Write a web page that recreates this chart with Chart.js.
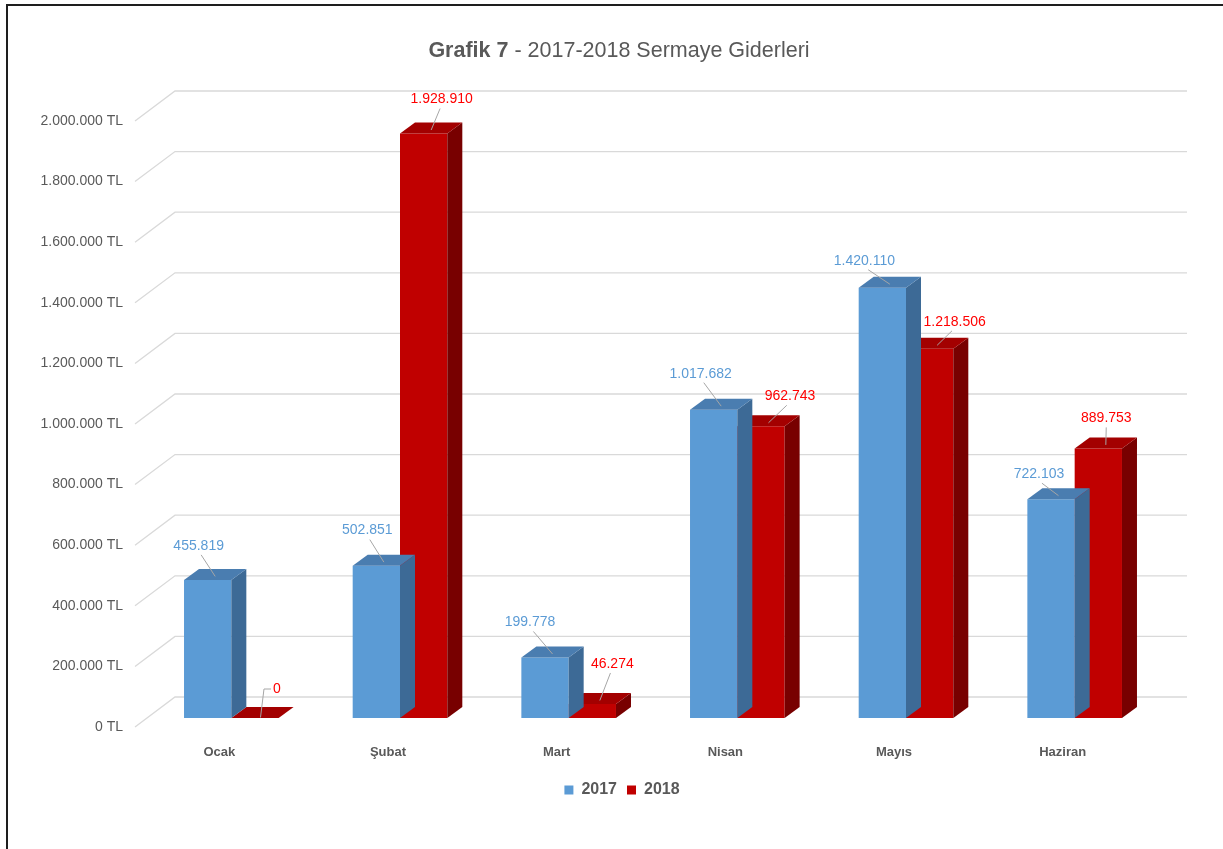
<!DOCTYPE html>
<html>
<head>
<meta charset="utf-8">
<script src="https://cdn.jsdelivr.net/npm/chart.js@4.4.1/dist/chart.umd.min.js"></script>
<style>
html,body{margin:0;padding:0;background:#fff;overflow:hidden;width:1223px;height:849px;}
#wrap{position:relative;width:1223px;height:849px;overflow:hidden;}
#frame{position:absolute;left:6px;top:4px;width:1400px;height:1000px;border-top:2px solid #1e1e1e;border-left:2px solid #1e1e1e;}
#title{position:absolute;top:37px;left:0;width:1238px;text-align:center;font-family:"Liberation Sans",Arial,sans-serif;font-size:21.5px;color:#595959;line-height:26px;}
#title b{font-weight:bold;}
canvas{position:absolute;left:0;top:0;}
</style>
</head>
<body>
<div id="wrap">
  <div id="frame"></div>
  <canvas id="c" width="1223" height="849"></canvas>
  <div id="title"><b>Grafik 7</b> - 2017-2018 Sermaye Giderleri</div>
</div>
<script>
// ---- data ----
const categories = ['Ocak', 'Şubat', 'Mart', 'Nisan', 'Mayıs', 'Haziran'];
const seriesNames = ['2017', '2018'];
const values2017 = [455819, 502851, 199778, 1017682, 1420110, 722103];
const values2018 = [0, 1928910, 46274, 962743, 1218506, 889753];
const yMin = 0;
const yMax = 2000000;
const yStep = 200000;

// label nudges (pixels, relative to top-front centre of each bar)
const labelNudge2017 = [[-9,-34],[-9,-35],[-15,-35],[-13,-36],[-18,-27],[-12,-25]];
const labelNudge2018 = [[22,-29],[18,-34],[20,-40],[29,-30],[25,-27],[8,-30]];

// ---- styles ----
const FONT = '"Liberation Sans", Arial, sans-serif';
const TEXT = '#595959';
const DEPTH_X = 15, DEPTH_Y = 11;              // bar depth
const WALL_FRONT_X = -12, WALL_FRONT_Y = 9;     // front edge of floor relative to bar fronts
const WALL_BACK_X = 28, WALL_BACK_Y = -21;      // back wall relative to bar fronts
const faceColors = [
  {front:'#5B9BD5', top:'#4A7DB0', side:'#3D6A96', label:'#5B9BD5'},
  {front:'#C00000', top:'#A30000', side:'#780000', label:'#FF0000'}
];

function fmtNum(v){
  return String(Math.round(v)).replace(/\B(?=(\d{3})+(?!\d))/g, '.');
}

const threeD = {
  id: 'threeD',
  beforeDatasetsDraw(chart){
    const {ctx, chartArea} = chart;
    const ys = chart.scales.y;
    ctx.save();
    ctx.strokeStyle = '#D9D9D9';
    ctx.lineWidth = 1.3;
    ys.ticks.forEach(t => {
      const y = ys.getPixelForValue(t.value);
      ctx.beginPath();
      ctx.moveTo(chartArea.left + WALL_FRONT_X, y + WALL_FRONT_Y);
      ctx.lineTo(chartArea.left + WALL_BACK_X, y + WALL_BACK_Y);
      ctx.lineTo(chartArea.right + WALL_BACK_X, y + WALL_BACK_Y);
      ctx.stroke();
    });
    ctx.restore();
  },
  afterDatasetDraw(chart, args){
    const {ctx} = chart;
    const col = faceColors[args.index];
    ctx.save();
    args.meta.data.forEach(bar => {
      const l = bar.x - bar.width/2, r = bar.x + bar.width/2;
      const top = Math.min(bar.y, bar.base), bot = Math.max(bar.y, bar.base);
      ctx.fillStyle = col.side;
      ctx.beginPath();
      ctx.moveTo(r, top); ctx.lineTo(r + DEPTH_X, top - DEPTH_Y);
      ctx.lineTo(r + DEPTH_X, bot - DEPTH_Y); ctx.lineTo(r, bot);
      ctx.closePath(); ctx.fill();
      ctx.fillStyle = col.top;
      ctx.beginPath();
      ctx.moveTo(l, top); ctx.lineTo(r, top);
      ctx.lineTo(r + DEPTH_X, top - DEPTH_Y); ctx.lineTo(l + DEPTH_X, top - DEPTH_Y);
      ctx.closePath(); ctx.fill();
    });
    ctx.restore();
  },
  afterDatasetsDraw(chart){
    const {ctx} = chart;
    const nudges = [labelNudge2017, labelNudge2018];
    ctx.save();
    ctx.font = '14px ' + FONT;
    ctx.textAlign = 'center';
    ctx.textBaseline = 'middle';
    chart.data.datasets.forEach((ds, di) => {
      const meta = chart.getDatasetMeta(di);
      meta.data.forEach((bar, i) => {
        const [dx, dy] = nudges[di][i];
        const lx = bar.x + dx, ly = bar.y + dy;
        const tx = bar.x + DEPTH_X/2, ty = bar.y - DEPTH_Y/2;
        ctx.strokeStyle = '#A6A6A6';
        ctx.lineWidth = 1;
        ctx.beginPath();
        if (ds.data[i] === 0) {
          ctx.moveTo(lx - 6, ly);
          ctx.lineTo(lx - 13, ly);
          ctx.lineTo(tx - 2, ty + 5);
        } else {
          ctx.moveTo(lx + (tx - lx) * 0.15, ly + 9);
          ctx.lineTo(tx, ty + 2);
        }
        ctx.stroke();
        ctx.fillStyle = faceColors[di].label;
        ctx.fillText(fmtNum(ds.data[i]), lx, ly);
      });
    });
    ctx.restore();
  }
};

const chart = new Chart(document.getElementById('c'), {
  type: 'bar',
  data: {
    labels: categories,
    datasets: [
      {label: seriesNames[0], data: values2017, backgroundColor: faceColors[0].front, borderWidth: 0},
      {label: seriesNames[1], data: values2018, backgroundColor: faceColors[1].front, borderWidth: 0}
    ]
  },
  options: {
    responsive: false,
    animation: false,
    devicePixelRatio: 1,
    categoryPercentage: 0.561,
    barPercentage: 1,
    layout: {padding: {left: 21, right: 0, top: 112, bottom: 41}},
    plugins: {
      legend: {
        position: 'bottom',
        labels: {boxWidth: 9, boxHeight: 9, padding: 10, color: TEXT,
                 font: {family: FONT, size: 16, weight: 'bold'}}
      },
      tooltip: {enabled: false},
      title: {display: false}
    },
    scales: {
      x: {
        grid: {display: false, drawTicks: false},
        border: {display: false},
        ticks: {padding: 27, labelOffset: -12, color: TEXT, font: {family: FONT, size: 13, weight: 'bold'}},
        afterFit: s => { s.height = 54; }
      },
      y: {
        min: yMin, max: yMax,
        grid: {display: false, drawTicks: false},
        border: {display: false},
        ticks: {stepSize: yStep, padding: 24, labelOffset: 9, color: TEXT,
                font: {family: FONT, size: 14},
                callback: v => fmtNum(v) + ' TL'},
        afterFit: s => { s.width = 126; }
      },
      yRight: {
        position: 'right',
        min: yMin, max: yMax,
        grid: {display: false, drawTicks: false},
        border: {display: false},
        ticks: {display: false},
        afterFit: s => { s.width = 64; }
      }
    }
  },
  plugins: [threeD]
});
</script>
</body>
</html>
